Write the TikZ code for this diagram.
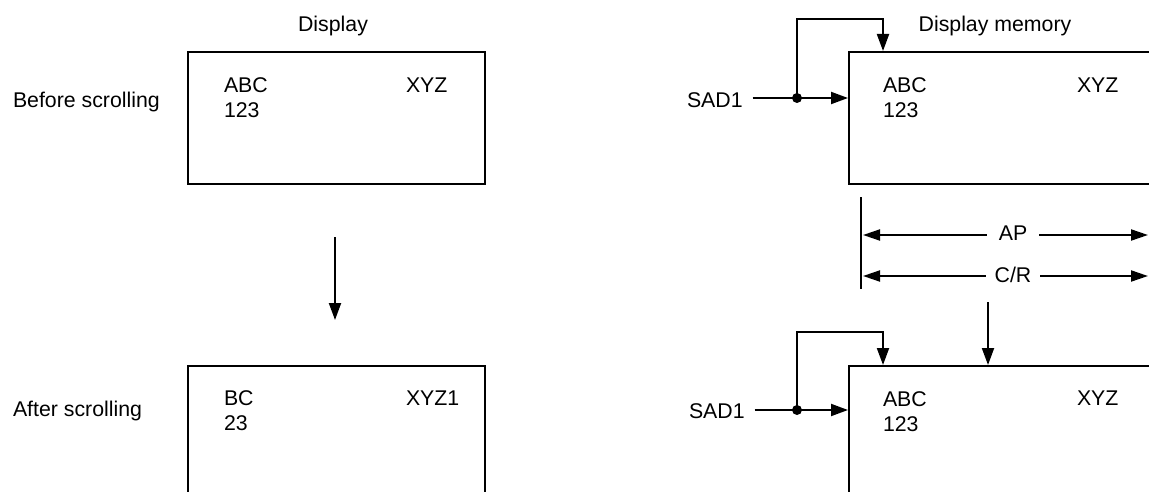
\documentclass[tikz,border=0pt]{standalone}
\usepackage{fontspec}
\setmainfont{Liberation Sans}
\usetikzlibrary{arrows.meta}
\begin{document}
\begin{tikzpicture}[x=1pt,y=-1pt, line width=2pt,
  txt/.style={inner sep=0pt, anchor=base west, font=\fontsize{21.3}{25}\selectfont},
  ctxt/.style={txt, anchor=base},
  box/.style={draw, line width=2.2pt, inner sep=0pt, anchor=north west},
  arr/.style={-{Triangle[length=17pt,width=12pt]}},
  darr/.style={{Triangle[length=17pt,width=11pt]}-{Triangle[length=17pt,width=11pt]}},
  lbl/.style={ctxt, fill=white, inner xsep=12pt, inner ysep=2pt}]
\useasboundingbox (0,0) rectangle (1149,492);
\clip (0,0) rectangle (1149,492);

% ---- left side: display ----
\node[ctxt] (disp) at (333,32) {Display};
\node[box, minimum width=297pt, minimum height=132pt] (dtop) at (187,51) {};
\node[txt] (before) at (12,108) {Before scrolling};
\node[txt] (dt1) at (223,93) {ABC};
\node[txt] (dt2) at (223,118) {123};
\node[txt] (dt3) at (405,93) {XYZ};

\coordinate (da1) at (335,237);
\coordinate (da2) at (335,320);
\draw[arr] (da1) -- (da2);

\node[box, minimum width=297pt, minimum height=150pt] (dbot) at (187,365) {};
\node[txt] (after) at (12,416) {After scrolling};
\node[txt] (db1) at (223,405) {BC};
\node[txt] (db2) at (223,430) {23};
\node[txt] (db3) at (405,405) {XYZ1};

% ---- right side: display memory ----
\node[ctxt] (dmem) at (995,32) {Display memory};
\node[box, minimum width=340pt, minimum height=132pt] (mtop) at (848,51) {};
\node[txt] (sadt) at (686,108) {SAD1};
\node[txt] (mt1) at (882,93) {ABC};
\node[txt] (mt2) at (882,118) {123};
\node[txt] (mt3) at (1076,93) {XYZ};

\coordinate (jt) at (797,98);
\coordinate (ct) at (883,19);
\draw[shorten <=9pt] (sadt.east |- jt) -- (jt);
\draw[arr] (jt) -- (mtop.west |- jt);
\draw[arr] (jt) |- (ct) -- (ct |- mtop.north);
\fill (jt) circle (5pt);

% offset markers
\coordinate (vt) at (861,197);
\coordinate (vb) at (861,289);
\draw (vt) -- (vb);
\coordinate (apL) at (863,235);
\coordinate (apR) at (1148,235);
\draw[darr] (apL) -- (apR);
\node[lbl] (ap) at (1013,240) {AP};
\coordinate (crL) at (863,276);
\coordinate (crR) at (1148,276);
\draw[darr] (crL) -- (crR);
\node[lbl, inner xsep=9pt] (cr) at (1013,282) {C/R};

\node[box, minimum width=340pt, minimum height=150pt] (mbot) at (848,365) {};
\coordinate (ma1) at (988,302);
\draw[arr] (ma1) -- (ma1 |- mbot.north);

\node[txt] (sadb) at (688,418) {SAD1};
\node[txt] (mb1) at (882,406) {ABC};
\node[txt] (mb2) at (882,431) {123};
\node[txt] (mb3) at (1076,405) {XYZ};

\coordinate (jb) at (797,410);
\coordinate (cb) at (883,332);
\draw[shorten <=9pt] (sadb.east |- jb) -- (jb);
\draw[arr] (jb) -- (mbot.west |- jb);
\draw[arr] (jb) |- (cb) -- (cb |- mbot.north);
\fill (jb) circle (5pt);
\end{tikzpicture}
\end{document}
